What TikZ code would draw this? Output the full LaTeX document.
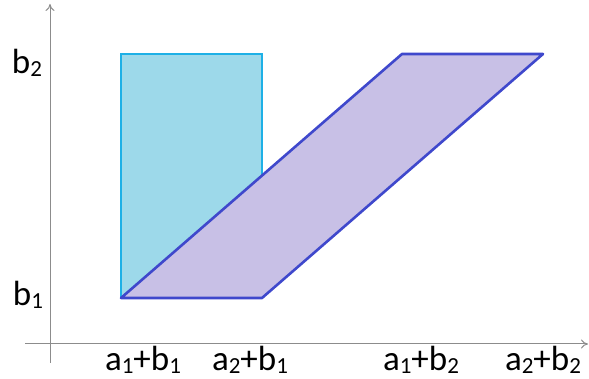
\documentclass[tikz,border=0pt]{standalone}
\usepackage{fontspec}
\setmainfont{Carlito}
\usetikzlibrary{arrows.meta}
\definecolor{boxfill}{RGB}{157,217,234}
\definecolor{boxline}{RGB}{30,176,230}
\definecolor{parfill}{RGB}{200,192,230}
\definecolor{parline}{RGB}{63,72,204}
\newcommand{\lowidx}[1]{\raisebox{-3pt}{\fontsize{23}{24}\selectfont #1}}

\begin{document}
\begin{tikzpicture}[x=1pt, y=1pt,
  axis/.style={gray!90, line width=1pt, -{To[length=7pt, width=9pt]}},
  lbl/.style={font=\fontsize{35}{40}\selectfont, inner sep=0pt, anchor=base}]
  \useasboundingbox (0,0) rectangle (589,379);
  % axes
  \coordinate (xs) at (25,35);
  \coordinate (xe) at (588,35);
  \coordinate (ys) at (50,16);
  \coordinate (ye) at (50,375);
  \draw[axis] (xs) -- (xe);
  \draw[axis] (ys) -- (ye);
  % corners
  \coordinate (p11) at (121,81);
  \coordinate (p21) at (262,81);
  \coordinate (p12) at (402,325);
  \coordinate (p22) at (543,325);
  \coordinate (r12) at (121,325);
  \coordinate (r22) at (262,325);
  \filldraw[fill=boxfill, draw=boxline, line width=1.2pt]
    (p11) -- (p21) -- (r22) -- (r12) -- cycle;
  \filldraw[fill=parfill, draw=parline, line width=2.6pt, line join=round]
    (p11) -- (p21) -- (p22) -- (p12) -- cycle;
  % labels
  \node[lbl] (lb2) at (27,305) {b\lowidx{2}};
  \node[lbl] (lb1) at (28,73) {b\lowidx{1}};
  \node[lbl] (la11) at (143,8) {a\lowidx{1}+b\lowidx{1}};
  \node[lbl] (la21) at (250,8) {a\lowidx{2}+b\lowidx{1}};
  \node[lbl] (la12) at (421,8) {a\lowidx{1}+b\lowidx{2}};
  \node[lbl] (la22) at (543,8) {a\lowidx{2}+b\lowidx{2}};
\end{tikzpicture}
\end{document}
